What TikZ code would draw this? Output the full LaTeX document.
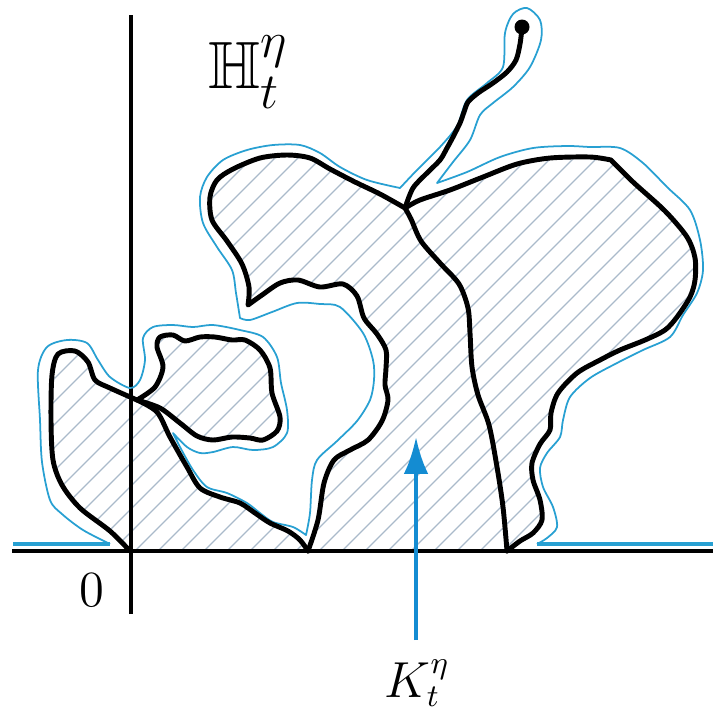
\documentclass[tikz,border=0pt]{standalone}
\usepackage{amsmath,amssymb}
\usepackage{tikz}
\usetikzlibrary{arrows.meta}

\definecolor{hullblue}{RGB}{40,160,210}
\definecolor{arrowblue}{RGB}{20,140,210}
\definecolor{hatchgray}{RGB}{170,186,202}

% traced pieces of the curve (pixel coordinates, y pointing down)
\newcommand{\leftloop}{plot[smooth] coordinates {(130,551) (110,531) (80,508) (62,485)
  (53,460) (51,420) (52,375) (58,354) (75,351) (88,362) (95,380) (110,388) (137,400)}}
\newcommand{\downcurve}{-- plot[smooth] coordinates {(137,400) (157,412) (170,437) (187,467)
  (200,488) (220,497) (240,503) (255,513) (270,523) (288,531) (300,540) (308,551)}}
\newcommand{\smallloop}{plot[smooth] coordinates {(137,400) (155,387) (163,367) (157,347)
  (160,337) (173,335) (185,341) (200,337) (215,337) (232,340) (245,340) (260,350)
  (270,368) (272,393) (280,417) (277,431) (263,440) (250,438) (232,437) (213,440)
  (197,436) (180,423) (160,408) (137,400)}}
\newcommand{\innerwall}{plot[smooth] coordinates {(308,551) (318,520) (324,483) (334,460)
  (350,450) (368,440) (382,421) (388,400) (385,385) (386,368) (386,350) (377,334)
  (364,318) (357,296) (343,284) (320,287) (298,280) (280,283) (262,295) (248,305)}}
\newcommand{\outerwall}{-- plot[smooth] coordinates {(248,305) (249,287) (242,264) (227,241)
  (212,220) (210,197) (217,180) (233,169) (260,158) (287,155) (310,158) (330,169)
  (355,182) (380,194) (405,208)}}
\newcommand{\rightroof}{-- plot[smooth] coordinates {(405,208) (420,200) (450,190) (483,177)
  (517,164) (550,158) (590,157) (611,160)}}
\newcommand{\rightwall}{-- plot[smooth] coordinates {(611,160) (633,182) (665,211) (687,237)
  (695,258) (695,280) (690,297) (677,317) (665,330) (645,340) (620,350) (600,360)
  (577,373) (558,393) (551,413) (550,430) (540,444) (532,463) (533,480) (540,500)
  (542,520) (533,533) (520,541) (507,551)}}
\newcommand{\midcurve}{plot[smooth] coordinates {(405,208) (411,219) (421,241) (440,263)
  (459,284) (468,308) (470,333) (472,367) (478,395) (489,425) (497,467) (503,507)
  (507,551)}}

\begin{document}
\begin{tikzpicture}[
  x=0.01cm, y=-0.01cm,
  >=Latex,
  walk/.style={line width=1.4pt, line join=round, line cap=round},
  axis/.style={line width=1pt},
  hull/.style={hullblue, line width=0.5pt, line join=round},
  base/.style={hullblue, line width=0.9pt},
  hatch/.style={hatchgray, line width=0.35pt},
  karr/.style={->, arrowblue, line width=1.2pt, >={Latex[length=10.5pt,width=7pt]}},
  lbl/.style={inner sep=0pt, font=\fontsize{13.5}{15}\selectfont}]

\useasboundingbox (0,0) rectangle (713,711);

% Hatched hull
\begin{scope}
  \clip \leftloop \downcurve -- cycle
        \smallloop -- cycle
        \innerwall \outerwall \rightroof \rightwall -- cycle;
  \foreach \k in {-380,-357,...,720}
    \draw[hatch] (\k,560) -- ++(620,-620);
\end{scope}

% Axes
\coordinate (xl) at (12,551);
\coordinate (xr) at (713,551);
\coordinate (yb) at (131,614);
\coordinate (yt) at (131,15);
\draw[axis] (xl) -- (xr);
\draw[axis] (yb) -- (yt);

% Blue outline of the hull
\draw[base] (13,544) -- (110,544);
\draw[base] (537,544) -- (713,544);
\draw[hull] plot[smooth] coordinates {(110,544) (83,530) (62,514) (50,500) (42,462)
  (40,420) (38,370) (47,347) (67,340) (87,343) (98,360) (110,377) (130,388) (140,380)
  (145,360) (143,338) (153,327) (173,325) (193,327) (213,325) (240,330) (263,337)
  (277,357) (281,383) (287,410) (287,433) (273,447) (253,450) (233,447) (213,452)
  (200,453) (187,447) (173,433)}
  -- plot[smooth] coordinates {(173,433) (180,447) (193,470) (207,487) (227,493)
  (247,503) (260,513) (273,522) (293,527) (306,535)}
  -- plot[smooth] coordinates {(306,535) (310,513) (312,480) (317,460) (337,441)
  (357,421) (370,400) (374,380) (373,360) (363,333) (340,307) (320,304) (297,303)
  (272,312) (250,320) (240,318)}
  -- plot[smooth] coordinates {(240,318) (236,293) (232,270) (217,247) (203,223)
  (200,197) (207,177) (223,160) (247,150) (273,145) (300,145) (320,153) (340,167)
  (367,180) (400,188)}
  -- plot[smooth] coordinates {(400,188) (417,170) (440,147) (457,126) (467,100)
  (487,83) (503,67) (505,33) (513,14) (527,8) (540,20) (541,40) (530,67) (513,87)
  (493,103) (480,115) (470,140) (453,162) (437,183)}
  -- plot[smooth] coordinates {(437,183) (467,172) (500,157) (533,148) (567,146)
  (590,147) (620,148) (643,163) (667,187) (690,210) (700,240) (703,270) (697,293)
  (683,315) (670,337) (643,350) (617,363) (590,378) (570,397) (563,420) (560,437)
  (547,453) (540,468) (543,487) (553,507) (557,527) (547,538) (537,544)};

% Black curve
\draw[walk] \leftloop \downcurve;
\draw[walk] \smallloop;
\draw[walk] \innerwall \outerwall \rightroof \rightwall;
\draw[walk] \midcurve;

% Tail up to the tip
\coordinate (fork) at (405,208);
\node[circle, fill, inner sep=0pt, minimum size=0.15cm] (tip) at (522,27) {};
\draw[walk] (fork) -- plot[smooth] coordinates {(405,208) (413,188) (427,173) (440,160)
  (447,148) (453,137) (460,123) (464,112) (468,102) (478,93) (493,83) (507,72)
  (516,60) (520,44) (522,28)};

% Labels
\node[lbl, anchor=base] (zero) at (92,606) {$0$};
\node[inner sep=0pt, anchor=base west, font=\fontsize{19}{21}\selectfont]
  (hlabel) at (208,88) {$\mathbb{H}^\eta_t$};
\node[lbl, anchor=base west] (klabel) at (384,697) {$K^\eta_t$};

% Arrow to the hull
\coordinate (kfoot) at (416,640);
\coordinate (ktip) at (416,437);
\draw[karr] (kfoot) -- (ktip);
\end{tikzpicture}
\end{document}
